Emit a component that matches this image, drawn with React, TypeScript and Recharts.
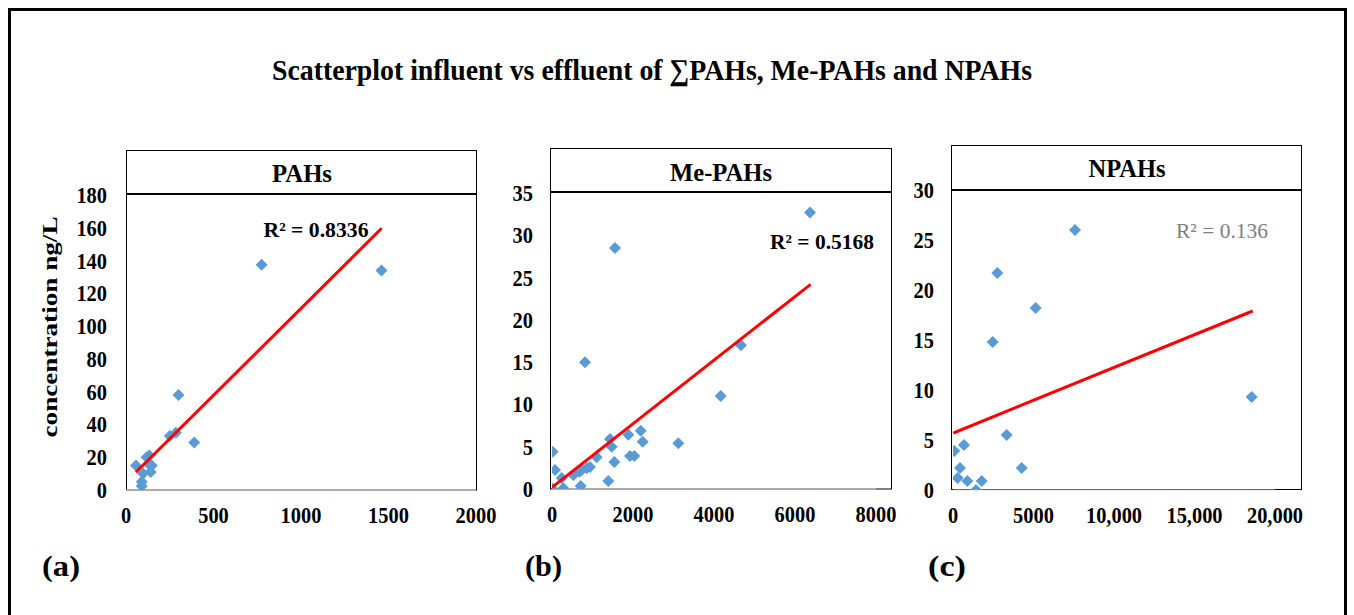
import React from "react";
import { ScatterChart, Scatter, XAxis, YAxis } from "recharts";

// values: influent (x) vs effluent (y), ng/L
const pahsInfluent = [775, 1460, 300, 390, 250, 285, 57, 118, 133, 128, 147, 141, 98, 90, 90];
const pahsEffluent = [137.5, 134, 58, 29, 33, 35, 15, 20, 21, 16, 15, 11, 10, 5, 2.4];
const pahsTrend = [
  { x: 57, y: 10.8 },
  { x: 1461, y: 159.7 },
];

const mePahsInfluent = [
  6370, 1556, 815, 4667, 4165, 3119, 2190, 2239, 1884, 1432, 1474, 1539, 1926, 2033,
  1103, 1391, 709, 16, 74, 0, 239, 280, 527, 674, 733, 856, 938,
];
const mePahsEffluent = [
  32.7, 28.5, 15.0, 17.0, 11.0, 5.4, 6.9, 5.6, 6.4, 5.9, 5.0, 3.2, 3.9, 3.9,
  3.75, 0.95, 0.35, 4.4, 2.25, 0.1, 1.3, 0.1, 1.65, 2.05, 2.25, 2.45, 2.6,
];
const mePahsTrend = [
  { x: 0, y: 0.2 },
  { x: 6387, y: 24.2 },
];

const npahsInfluent = [7578, 2752, 5137, 2466, 18553, 3335, 4267, 81, 683, 435, 292, 888, 1429, 1783];
const npahsEffluent = [26.0, 21.7, 18.2, 14.8, 9.3, 5.5, 2.2, 3.9, 4.5, 2.2, 1.2, 0.9, 0, 0.9];
const npahsTrend = [
  { x: 20, y: 5.7 },
  { x: 18615, y: 17.9 },
];

const pahsXTicks = [0, 500, 1000, 1500, 2000];
const pahsYTicks = [0, 20, 40, 60, 80, 100, 120, 140, 160, 180];
const mePahsXTicks = [0, 2000, 4000, 6000, 8000];
const mePahsYTicks = [0, 5, 10, 15, 20, 25, 30, 35];
const npahsXTicks = [0, 5000, 10000, 15000, 20000];
const npahsYTicks = [0, 5, 10, 15, 20, 25, 30];

const toPoints = (xs: number[], ys: number[]) => xs.map((x, i) => ({ x, y: ys[i] }));

const FONT = '"Liberation Serif", "Times New Roman", serif';
const BLUE = "#5B9BD5";

function Diamond(props: any) {
  const { cx, cy } = props;
  if (cx == null || cy == null) return <g />;
  const r = 6;
  return (
    <polygon
      points={`${cx},${cy - r} ${cx + r},${cy} ${cx},${cy + r} ${cx - r},${cy}`}
      fill={BLUE}
    />
  );
}

function XTick(props: any) {
  const { x, y, payload, fmt } = props;
  const label = fmt ? fmt(payload.value) : String(payload.value);
  return (
    <g transform={`translate(${x},${y + 33})`}>
      <text
        transform="scale(0.85,1)"
        textAnchor="middle"
        fontFamily={FONT}
        fontWeight="bold"
        fontSize={24}
        fill="#000"
      >
        {label}
      </text>
    </g>
  );
}

function YTick(props: any) {
  const { x, y, payload } = props;
  return (
    <g transform={`translate(${x - 19},${y + 8})`}>
      <text
        transform="scale(0.85,1)"
        textAnchor="end"
        fontFamily={FONT}
        fontWeight="bold"
        fontSize={24}
        fill="#000"
      >
        {payload.value}
      </text>
    </g>
  );
}

const withComma = (v: number) => (v >= 10000 ? v.toLocaleString("en-US") : String(v));

type PanelProps = {
  x0: number;
  x1: number;
  y0: number;
  y1: number;
  xMax: number;
  yMax: number;
  xTicks: number[];
  yTicks: number[];
  points: { x: number; y: number }[];
  trend: { x: number; y: number }[];
  fmt?: (v: number) => string;
};

function Panel({ x0, x1, y0, y1, xMax, yMax, xTicks, yTicks, points, trend, fmt }: PanelProps) {
  const w = x1 - x0 + 130;
  const h = y1 - y0 + 80;
  return (
    <div style={{ position: "absolute", left: x0 - 80, top: y0 - 20, width: w, height: h }}>
      <ScatterChart width={w} height={h} margin={{ top: 20, right: 50, bottom: 20, left: 20 }}>
        <XAxis
          type="number"
          dataKey="x"
          domain={[0, xMax]}
          ticks={xTicks}
          allowDataOverflow
          height={40}
          axisLine={{ stroke: "#d9d9d9" }}
          tickLine={false}
          tickSize={0}
          tickMargin={0}
          tick={(p: any) => <XTick {...p} fmt={fmt} />}
        />
        <YAxis
          type="number"
          dataKey="y"
          domain={[0, yMax]}
          ticks={yTicks}
          allowDataOverflow
          width={60}
          axisLine={false}
          tickLine={false}
          tickSize={0}
          tickMargin={0}
          tick={(p: any) => <YTick {...p} />}
        />
        <Scatter data={points} shape={Diamond} isAnimationActive={false} />
        <Scatter
          data={trend}
          line={{ stroke: "#FF0000", strokeWidth: 3 }}
          shape={() => <g />}
          isAnimationActive={false}
        />
      </ScatterChart>
    </div>
  );
}

export default function App() {
  return (
    <div
      style={{
        position: "absolute",
        left: 0,
        top: 0,
        width: 1354,
        height: 615,
        overflow: "hidden",
        background: "#fff",
      }}
    >
      <svg width={1354} height={615} style={{ position: "absolute", left: 0, top: 0 }}>
        <rect x={9.5} y={9.5} width={1336} height={630} fill="none" stroke="#000" strokeWidth={3} />
        <text
          x={652}
          y={80}
          textAnchor="middle"
          fontFamily={FONT}
          fontWeight="bold"
          fontSize={30}
          textLength={760}
          lengthAdjust="spacingAndGlyphs"
        >
          Scatterplot influent vs effluent of ∑PAHs, Me-PAHs and NPAHs
        </text>

        {/* panel frames with header boxes */}
        <rect x={126.5} y={150.5} width={350} height={339.5} fill="none" stroke="#000" strokeWidth={1} />
        <line x1={126} x2={477} y1={194} y2={194} stroke="#000" strokeWidth={2} />
        <rect x={550.5} y={148.5} width={341} height={340.5} fill="none" stroke="#000" strokeWidth={1} />
        <line x1={550} x2={892} y1={192} y2={192} stroke="#000" strokeWidth={2} />
        <rect x={951.5} y={145.5} width={350} height={344} fill="none" stroke="#000" strokeWidth={1} />
        <line x1={951} x2={1302} y1={190} y2={190} stroke="#000" strokeWidth={2} />

        <g fontFamily={FONT} fontWeight="bold" fontSize={26} textAnchor="middle">
          <text x={302} y={182} textLength={60} lengthAdjust="spacingAndGlyphs">PAHs</text>
          <text x={721} y={181} textLength={102} lengthAdjust="spacingAndGlyphs">Me-PAHs</text>
          <text x={1127} y={177} textLength={77} lengthAdjust="spacingAndGlyphs">NPAHs</text>
        </g>

        <g fontFamily={FONT} fontSize={21} textAnchor="middle">
          <text x={316} y={237} fontWeight="bold" textLength={105} lengthAdjust="spacingAndGlyphs">
            R² = 0.8336
          </text>
          <text x={822} y={249} fontWeight="bold" textLength={104} lengthAdjust="spacingAndGlyphs">
            R² = 0.5168
          </text>
          <text x={1222} y={238} fill="#808080" textLength={92} lengthAdjust="spacingAndGlyphs">
            R² = 0.136
          </text>
        </g>

        <text
          transform="translate(57,327) rotate(-90)"
          textAnchor="middle"
          fontFamily={FONT}
          fontWeight="bold"
          fontSize={22}
          textLength={221}
          lengthAdjust="spacingAndGlyphs"
        >
          concentration ng/L
        </text>

        <g fontFamily={FONT} fontWeight="bold" fontSize={30}>
          <text x={42} y={576} textLength={38} lengthAdjust="spacingAndGlyphs">(a)</text>
          <text x={525} y={576} textLength={37} lengthAdjust="spacingAndGlyphs">(b)</text>
          <text x={928} y={576} textLength={38} lengthAdjust="spacingAndGlyphs">(c)</text>
        </g>
      </svg>

      <Panel
        x0={126}
        x1={476}
        y0={195}
        y1={490}
        xMax={2000}
        yMax={180}
        xTicks={pahsXTicks}
        yTicks={pahsYTicks}
        points={toPoints(pahsInfluent, pahsEffluent)}
        trend={pahsTrend}
      />
      <Panel
        x0={552}
        x1={876}
        y0={193}
        y1={489}
        xMax={8000}
        yMax={35}
        xTicks={mePahsXTicks}
        yTicks={mePahsYTicks}
        points={toPoints(mePahsInfluent, mePahsEffluent)}
        trend={mePahsTrend}
      />
      <Panel
        x0={953}
        x1={1275}
        y0={190}
        y1={490}
        xMax={20000}
        yMax={30}
        xTicks={npahsXTicks}
        yTicks={npahsYTicks}
        points={toPoints(npahsInfluent, npahsEffluent)}
        trend={npahsTrend}
        fmt={withComma}
      />
    </div>
  );
}
